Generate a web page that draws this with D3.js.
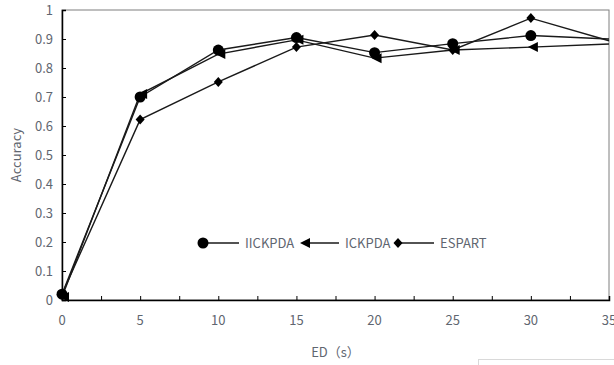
<!DOCTYPE html>
<html>
<head>
<meta charset="utf-8">
<script src="https://cdn.jsdelivr.net/npm/d3@7"></script>
<style>
  body { margin: 0; background: #fff; }
  text { font-family: "Noto Sans CJK SC", "Noto Sans", sans-serif; fill: #5f6670; }
</style>
</head>
<body>
<div id="chart"></div>
<script>
// Data
const edValues = [0, 5, 10, 15, 20, 25, 30, 35];
const iickpda = [0.02, 0.70, 0.862, 0.905, 0.853, 0.884, 0.912, 0.90];
const ickpda = [0.01, 0.71, 0.848, 0.897, 0.834, 0.862, 0.872, 0.883];
const espart = [0.02, 0.622, 0.752, 0.872, 0.914, 0.862, 0.972, 0.894];
const seriesNames = ["IICKPDA", "ICKPDA", "ESPART"];
const yTicks = [0, 0.1, 0.2, 0.3, 0.4, 0.5, 0.6, 0.7, 0.8, 0.9, 1];
const xTicks = [0, 5, 10, 15, 20, 25, 30, 35];

// Plot constants
const MARGIN = { LEFT: 62, RIGHT: 5, TOP: 10, BOTTOM: 65 };
const W = 614, H = 365;
const WIDTH = W - MARGIN.LEFT - MARGIN.RIGHT;
const HEIGHT = H - MARGIN.TOP - MARGIN.BOTTOM;

const svg = d3.select("#chart").append("svg")
  .attr("width", W)
  .attr("height", H);

const g = svg.append("g")
  .attr("transform", "translate(" + MARGIN.LEFT + "," + MARGIN.TOP + ")");

const x = d3.scaleLinear().domain([0, 35]).range([0, WIDTH]);
const y = d3.scaleLinear().domain([0, 1]).range([HEIGHT, 0]);

// plot frame (top / right)
g.append("rect")
  .attr("x", 0).attr("y", 0)
  .attr("width", WIDTH).attr("height", HEIGHT)
  .attr("fill", "none")
  .attr("stroke", "#7f7f7f")
  .attr("stroke-width", 1);

// Axes
const yAxis = g.append("g")
  .call(d3.axisRight(y).tickValues(yTicks).tickSize(4).tickFormat(""));
yAxis.select(".domain").attr("stroke", "#000").attr("stroke-width", 1.5);
yAxis.selectAll(".tick line").attr("stroke", "#000");

g.selectAll(".ylabel").data(yTicks).enter().append("text")
  .attr("class", "ylabel")
  .attr("x", -9)
  .attr("y", d => y(d))
  .attr("dy", "0.35em")
  .attr("text-anchor", "end")
  .style("font-size", "13px")
  .text(d => d3.format("")(d));

const minorX = d3.range(0, 35.1, 2.5);
const xAxis = g.append("g")
  .attr("transform", "translate(0," + HEIGHT + ")")
  .call(d3.axisTop(x).tickValues(minorX).tickSize(4).tickFormat(""));
xAxis.select(".domain").attr("stroke", "#000").attr("stroke-width", 1.5);
xAxis.selectAll(".tick line").attr("stroke", "#000");

g.selectAll(".xlabel").data(xTicks).enter().append("text")
  .attr("class", "xlabel")
  .attr("x", d => x(d))
  .attr("y", HEIGHT + 25)
  .attr("text-anchor", "middle")
  .style("font-size", "13px")
  .text(d => d);

// Axis titles
svg.append("text")
  .attr("text-anchor", "middle")
  .attr("transform", "translate(21," + (MARGIN.TOP + 145) + ")rotate(-90)")
  .style("font-size", "13px")
  .text("Accuracy");

svg.append("text")
  .attr("x", MARGIN.LEFT + x(17.5))
  .attr("y", 357)
  .attr("text-anchor", "middle")
  .style("font-size", "13px")
  .text("ED（s）");

// Marker shapes
function drawMarker(sel, kind) {
  if (kind === "circle") {
    sel.append("circle").attr("r", 5.5).attr("fill", "#000");
  } else if (kind === "triangle") {
    sel.append("path").attr("d", "M-3,0L7,-5L7,5Z").attr("fill", "#000");
  } else {
    sel.append("path").attr("d", "M0,-5L4.5,0L0,5L-4.5,0Z").attr("fill", "#000");
  }
}

const series = [
  { name: seriesNames[0], values: iickpda, marker: "circle" },
  { name: seriesNames[1], values: ickpda, marker: "triangle" },
  { name: seriesNames[2], values: espart, marker: "diamond" }
];

const line = d3.line()
  .x((d, i) => x(edValues[i]))
  .y(d => y(d));

series.forEach(s => {
  g.append("path")
    .attr("d", line(s.values))
    .attr("fill", "none")
    .attr("stroke", "#1a1a1a")
    .attr("stroke-width", 1.4);
});

series.forEach(s => {
  s.values.forEach((v, i) => {
    if (edValues[i] >= 35) return;
    const m = g.append("g")
      .attr("transform", "translate(" + x(edValues[i]) + "," + y(v) + ")");
    drawMarker(m, s.marker);
  });
});

// Legend
const legendX = [203, 303, 398];
const legendY = 243;
series.forEach((s, i) => {
  const lg = svg.append("g").attr("transform", "translate(" + legendX[i] + "," + legendY + ")");
  lg.append("line")
    .attr("x1", 0).attr("x2", 36)
    .attr("stroke", "#1a1a1a")
    .attr("stroke-width", 1.4);
  drawMarker(lg, s.marker);
  lg.append("text")
    .attr("x", 42)
    .attr("dy", "0.35em")
    .style("font-size", "13px")
    .text(s.name);
});

// faint box bottom right
svg.append("rect")
  .attr("x", 478.5).attr("y", 359.5)
  .attr("width", 140).attr("height", 20)
  .attr("fill", "none")
  .attr("stroke", "#d9d9d9");
</script>
</body>
</html>
